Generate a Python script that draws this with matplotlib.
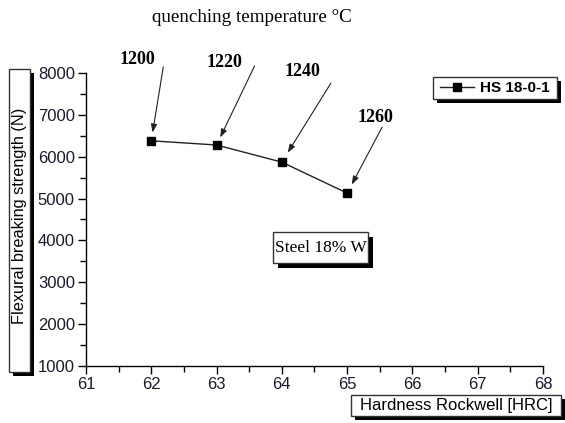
import matplotlib
matplotlib.use("Agg")
import matplotlib.pyplot as plt
from matplotlib.patches import Rectangle
from matplotlib.ticker import MultipleLocator

# ---- data ----
hardness = [62, 63, 64, 65]
strength = [6380, 6280, 5870, 5130]
temps = ["1200", "1220", "1240", "1260"]
series_name = "HS 18-0-1"
x_ticks = [61, 62, 63, 64, 65, 66, 67, 68]
y_ticks = [1000, 2000, 3000, 4000, 5000, 6000, 7000, 8000]

W, H = 565, 423
fig = plt.figure(figsize=(W / 100, H / 100), dpi=100)
SANS = "Liberation Sans"
SERIF = "Liberation Serif"

def fx(px):
    return px / W

def fy(py):
    return 1 - py / H

ax = fig.add_axes([fx(86), fy(366), fx(543) - fx(86), fy(73) - fy(366)])
line, = ax.plot(hardness, strength, color="#222222", lw=1.0, marker="s",
                markersize=5.5, markerfacecolor="black", markeredgecolor="black",
                label=series_name)
ax.set_xlim(61, 68)
ax.set_ylim(1000, 8000)
ax.set_xticks(x_ticks)
ax.set_yticks(y_ticks)
ax.xaxis.set_minor_locator(MultipleLocator(0.5))
ax.yaxis.set_minor_locator(MultipleLocator(500))
for s in ["top", "right"]:
    ax.spines[s].set_visible(False)
for s in ["left", "bottom"]:
    ax.spines[s].set_linewidth(1.0)
ax.tick_params(which="major", direction="out", length=6, width=1, labelsize=12, pad=2)
ax.tick_params(which="minor", direction="out", length=4, width=1)
for lab in ax.get_xticklabels() + ax.get_yticklabels():
    lab.set_fontfamily(SANS)
    lab.set_color("#1a1a2e")

# annotations: (text offset px, arrow start offset px, shrink)
text_off = [(-14, 81), (8, 82), (21, 91), (28, 76)]
arrow_off = [(12, 74), (38, 79), (49, 79), (35, 66)]
shrinks = [6, 6, 8, 7]
for i, t in enumerate(temps):
    ax.annotate(t, xy=(hardness[i], strength[i]), xytext=text_off[i],
                textcoords="offset pixels", ha="center", va="center",
                fontfamily=SERIF, fontweight="bold", fontsize=13)
    ax.annotate("", xy=(hardness[i], strength[i]), xytext=arrow_off[i],
                textcoords="offset pixels",
                arrowprops=dict(arrowstyle="-|>,head_length=0.5,head_width=0.18",
                                color="#222222", lw=0.8, shrinkA=0,
                                shrinkB=shrinks[i]))

def shadow_box(x0, y0, x1, y1, off=5):
    sh = Rectangle((fx(x0 + off), fy(y1 + off)), fx(x1 - x0), fy(y0) - fy(y1),
                   transform=fig.transFigure, facecolor="black", edgecolor="black",
                   lw=0, zorder=1)
    bx = Rectangle((fx(x0), fy(y1)), fx(x1 - x0), fy(y0) - fy(y1),
                   transform=fig.transFigure, facecolor="white", edgecolor="#333333",
                   lw=1.0, zorder=2)
    fig.patches.extend([sh, bx])

# title
fig.text(fx(252), fy(18), "quenching temperature °C", ha="center", va="center",
         fontfamily=SERIF, fontsize=13.7)

# y label box
shadow_box(9, 69, 30, 372, off=4)
fig.text(fx(19.5), fy(216), "Flexural breaking strength (N)", rotation=90,
         ha="center", va="center", fontfamily=SANS, fontsize=11.7, zorder=3)

# x label box
shadow_box(351, 395, 561, 416, off=4)
fig.text(fx(456), fy(405.5), "Hardness Rockwell [HRC]", ha="center", va="center",
         fontfamily=SANS, fontsize=12, zorder=3)

# steel box
shadow_box(273, 232, 368, 263, off=5)
fig.text(fx(320.5), fy(247.5), "Steel 18% W", ha="center", va="center",
         fontfamily=SERIF, fontsize=12.5, zorder=3)

# legend box
shadow_box(433, 77, 557, 99, off=4)
leg = fig.legend(handles=[line], loc="center", bbox_to_anchor=(fx(495), fy(88)),
                 frameon=False, handlelength=2.2, handletextpad=0.4,
                 prop={"family": SANS, "weight": "bold", "size": 11})
leg.set_zorder(5)

fig.savefig("out.png", dpi=100)
